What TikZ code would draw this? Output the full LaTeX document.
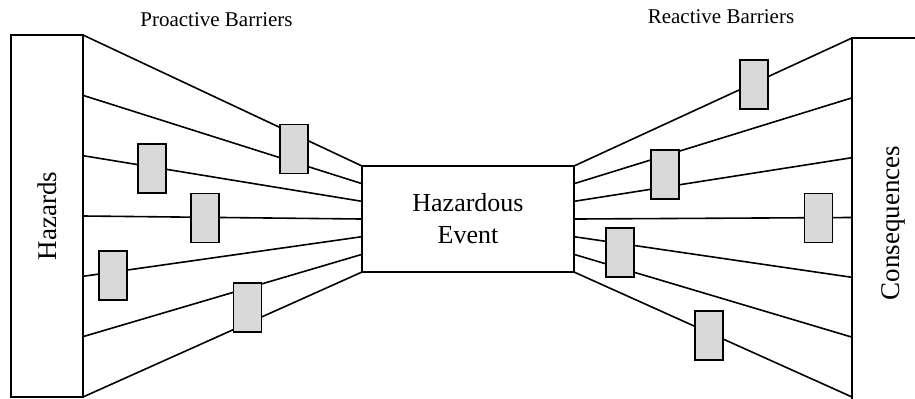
\documentclass[tikz,border=0pt]{standalone}
\usepackage{fontspec}
\setmainfont{Liberation Serif}
\usepackage{graphicx}
\usepackage{xcolor}
\usetikzlibrary{calc}
\definecolor{barriergray}{HTML}{D9D9D9}

\begin{document}
\begin{tikzpicture}[x=0.5pt, y=-0.5pt, line width=0.8pt,
                    sidebox/.style={draw, inner sep=0pt, outer sep=0pt,
                                    font=\fontsize{13.5}{16}\selectfont},
                    barrier/.style={draw, fill=barriergray, minimum width=14pt,
                                    minimum height=24.5pt, inner sep=0pt},
                    heading/.style={anchor=base, font=\fontsize{10.5}{12}\selectfont}]
  \useasboundingbox (0,0) rectangle (915,398);
  \clip (0,0) rectangle (915,398);
  \node[sidebox, minimum width=36pt, minimum height=181pt] (hazards) at (47,216) {\rotatebox{90}{Hazards}};
  \node[sidebox, minimum width=41pt, minimum height=185pt] (cons) at (893,223) {\rotatebox{90}{Consequences}};
  \node[sidebox, minimum width=106pt, minimum height=53pt, align=center,
        font=\fontsize{13}{16}\selectfont] (event) at (468,219) {Hazardous\\Event};
  \foreach \k in {0,...,6} {
    \coordinate (hz\k) at ($(hazards.north east)+(0,\k*60.33)$);
    \coordinate (evl\k) at ($(event.north west)+(0,\k*17.67)$);
    \coordinate (evr\k) at ($(event.north east)+(0,\k*17.67)$);
    \coordinate (cq\k) at ($(cons.north west)+(0,\k*59.83)$);
    \draw (hz\k) -- (evl\k);
    \draw (evr\k) -- (cq\k);
  }
  \node[barrier] (pb1) at (294,149) {};
  \node[barrier] (pb2) at (152,168.5) {};
  \node[barrier] (pb3) at (205,218) {};
  \node[barrier] (pb4) at (113,275.5) {};
  \node[barrier] (pb5) at (247.5,307.5) {};
  \node[barrier] (rb1) at (754,84.5) {};
  \node[barrier] (rb2) at (665,174.5) {};
  \node[barrier] (rb3) at (818.5,218) {};
  \node[barrier] (rb4) at (620,252.5) {};
  \node[barrier] (rb5) at (709,335.5) {};
  \node[heading] (proactive) at (216.5,26) {Proactive Barriers};
  \node[heading] (reactive) at (721,23) {Reactive Barriers};
\end{tikzpicture}
\end{document}
